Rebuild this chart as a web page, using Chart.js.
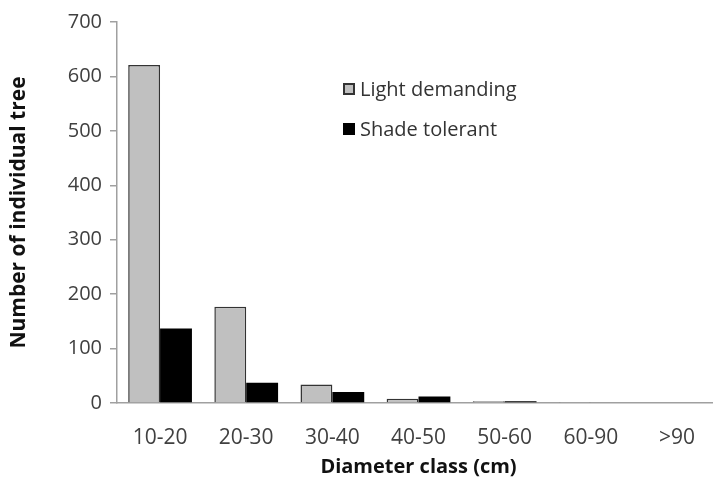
<!DOCTYPE html>
<html><head><meta charset="utf-8">
<script src="https://cdn.jsdelivr.net/npm/chart.js@4.4.1/dist/chart.umd.min.js"></script>
<style>
html,body{margin:0;padding:0;background:#fff;overflow:hidden;}
#wrap{position:relative;width:720px;height:479px;}
.leg{position:absolute;font-family:'Open Sans',sans-serif;font-size:20px;color:#333;display:flex;align-items:center;white-space:nowrap;}
.sw{display:inline-block;width:12px;height:12px;margin-right:5px;box-sizing:border-box;}
</style></head><body>
<div id="wrap">
<canvas id="c" width="720" height="479" style="width:720px;height:479px"></canvas>
<div class="leg" style="left:343px;top:75px"><span class="sw" style="background:#c0c0c0;border:2px solid #333"></span>Light demanding</div>
<div class="leg" style="left:343px;top:115px"><span class="sw" style="background:#000"></span>Shade tolerant</div>
</div>
<script>
const categories = ['10-20','20-30','30-40','40-50','50-60','60-90','>90'];
const lightDemanding = [621, 177, 34, 8, 3, 2, 0];
const shadeTolerant = [137, 37, 20, 12, 3, 0, 0];
const yTicks = [0,100,200,300,400,500,600,700];

const font = "'Open Sans', sans-serif";
new Chart(document.getElementById('c'), {
  type: 'bar',
  data: {
    labels: categories,
    datasets: [
      {label:'Light demanding', data: lightDemanding, backgroundColor:'#c0c0c0', borderColor:'#333', borderWidth:1.5, categoryPercentage:0.74, barPercentage:1},
      {label:'Shade tolerant', data: shadeTolerant, backgroundColor:'#000', borderColor:'#000', borderWidth:0, categoryPercentage:0.74, barPercentage:1}
    ]
  },
  options: {
    responsive:false, animation:false,
    layout:{padding:{top:22,right:0,left:0,bottom:0}},
    plugins:{legend:{display:false}, tooltip:{enabled:false}},
    scales:{
      x:{
        grid:{display:false},
        border:{color:'#a0a0a0', width:1.5},
        ticks:{color:'#404040', font:{family:font, size:21}, padding:14, maxRotation:0},
        title:{display:true, text:'Diameter class (cm)', color:'#111', font:{family:font, size:20, weight:'bold'}, padding:{top:-12,bottom:0}},
        afterFit(s){ s.height = 76; }
      },
      y:{
        min:0, max:700,
        afterBuildTicks(s){ s.ticks = yTicks.map(v=>({value:v})); },
        grid:{drawOnChartArea:false, drawTicks:true, tickLength:7, color:'#a0a0a0', lineWidth:1.5},
        border:{color:'#a0a0a0', width:1.5},
        ticks:{color:'#404040', font:{family:font, size:20}, padding:8},
        title:{display:true, text:'Number of individual tree', color:'#111', font:{family:font, size:21, weight:'bold'}, padding:{top:6,bottom:0}},
        afterFit(s){ s.width = 117; }
      }
    }
  }
});
</script>
</body></html>
